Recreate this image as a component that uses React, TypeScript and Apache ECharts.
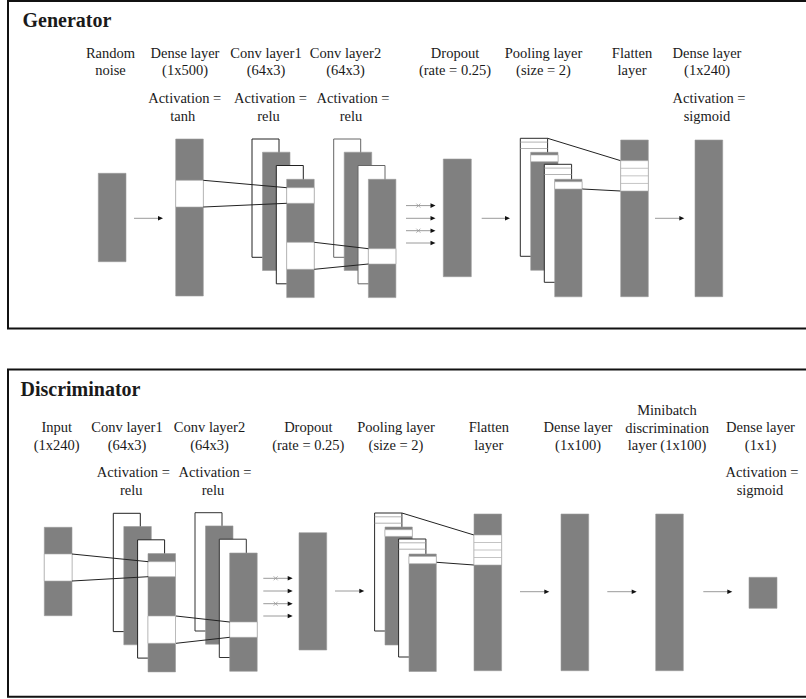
import React, { useEffect, useRef } from "react";
import * as echarts from "echarts";

// ---- Diagram text content ----
const generatorTitle = "Generator";
const discriminatorTitle = "Discriminator";

const generatorLabels: string[][] = [
  ["Random", "noise"],
  ["Dense layer", "(1x500)"],
  ["Conv layer1", "(64x3)"],
  ["Conv layer2", "(64x3)"],
  ["Dropout", "(rate = 0.25)"],
  ["Pooling layer", "(size = 2)"],
  ["Flatten", "layer"],
  ["Dense layer", "(1x240)"],
];
const generatorActivations: (string | null)[] = [null, "tanh", "relu", "relu", null, null, null, "sigmoid"];

const discriminatorLabels: string[][] = [
  ["Input", "(1x240)"],
  ["Conv layer1", "(64x3)"],
  ["Conv layer2", "(64x3)"],
  ["Dropout", "(rate = 0.25)"],
  ["Pooling layer", "(size = 2)"],
  ["Flatten", "layer"],
  ["Dense layer", "(1x100)"],
  ["Minibatch", "discrimination", "layer (1x100)"],
  ["Dense layer", "(1x1)"],
];
const discriminatorActivations: (string | null)[] = [null, "relu", "relu", null, null, null, null, null, "sigmoid"];

// ---- layout (positions only) ----
const GX = [110.5, 185, 266, 345.5, 455, 543.5, 632, 707];
const GAX = [0, 184.7, 270.5, 353, 0, 0, 0, 709];
const DX = [56.7, 127, 209.5, 308.3, 396, 488.8, 578, 667, 760.5];
const DAX = [0, 133.3, 215, 0, 0, 0, 0, 0, 762];

const GRAY = "#808080";
const TXT = "#1a1a1a";
const FAMILY = "'Liberation Serif', 'Times New Roman', serif";
const FS = 14.5;
const BL = 6.5; // baseline offset from middle

function text(x: number, baseline: number, s: string, opts: any = {}) {
  const size = opts.fontSize ?? FS;
  const weight = opts.fontWeight ?? "normal";
  const align = opts.align ?? "center";
  return {
    type: "text",
    x,
    y: baseline - (opts.bl ?? BL),
    z: 10,
    style: {
      text: s,
      fill: TXT,
      font: `${weight} ${size}px ${FAMILY}`,
      textAlign: align,
      textVerticalAlign: "middle",
      align,
      verticalAlign: "middle",
    },
  };
}

function rect(x: number, y: number, w: number, h: number, fill: string, stroke?: string, lw = 1) {
  return {
    type: "rect",
    shape: { x, y, width: w, height: h },
    style: { fill, stroke: stroke ?? null, lineWidth: stroke ? lw : 0 },
  };
}

function line(x1: number, y1: number, x2: number, y2: number, stroke = "#222", lw = 1) {
  return { type: "line", shape: { x1, y1, x2, y2 }, style: { stroke, lineWidth: lw } };
}

function arrow(x1: number, x2: number, y: number, xmark = false) {
  const els: any[] = [line(x1, y, x2 - 4, y, "#9a9a9a", 1)];
  els.push({
    type: "polygon",
    shape: { points: [[x2 - 5, y - 2.3], [x2, y], [x2 - 5, y + 2.3]] },
    style: { fill: "#111" },
  });
  if (xmark) {
    const cx = x1 + (x2 - x1) * 0.42;
    els.push(line(cx - 2, y - 2, cx + 2, y + 2, "#999", 0.8));
    els.push(line(cx - 2, y + 2, cx + 2, y - 2, "#999", 0.8));
  }
  return els;
}

function grayBar(x: number, y: number, w: number, h: number) {
  return rect(x, y, w, h, GRAY, "#9a9a9a", 0.6);
}

function band(x: number, y1: number, w: number, y2: number) {
  return rect(x, y1, w, y2 - y1, "#fff", "#a8a8a8", 0.6);
}

function convBlock(x0: number, y0: number, outline: string, bands: [number, number][]) {
  const w = 27.5, h = 118.3;
  const els: any[] = [];
  els.push(rect(x0, y0, w - 0.5, h, "#fff", outline, 1));
  els.push(grayBar(x0 + 10.5, y0 + 13.2, w, h));
  els.push(rect(x0 + 24.3, y0 + 26.5, w - 0.5, h, "#fff", outline, 1));
  els.push(grayBar(x0 + 34.7, y0 + 40.3, w, h));
  bands.forEach(([a, b]) => els.push(band(x0 + 34.7, a, w, b)));
  return els;
}

function poolBlock(x0: number, y0: number) {
  const w = 27.3, h = 118;
  const els: any[] = [];
  const outlineRect = (x: number, y: number) => {
    els.push(rect(x, y, w, h, "#fff", "#2a2a2a", 1));
    els.push(line(x, y + 3.8, x + w, y + 3.8, "#a0a0a0", 0.8));
    els.push(line(x, y + 10.2, x + w, y + 10.2, "#a0a0a0", 0.8));
  };
  outlineRect(x0, y0);
  els.push(grayBar(x0 + 10.4, y0 + 14, w, h));
  els.push(band(x0 + 10.4, y0 + 16.7, w, y0 + 23.4));
  outlineRect(x0 + 24, y0 + 26);
  els.push(grayBar(x0 + 34.4, y0 + 41, w, h - 0.5));
  els.push(band(x0 + 34.4, y0 + 43.4, w, y0 + 50.7));
  return els;
}

function flatten(x: number, y: number, b1: number, b2: number) {
  const w = 27.6, h = 156.7;
  const els: any[] = [grayBar(x, y, w, h), band(x, b1, w, b2)];
  const step = (b2 - b1) / 4;
  for (let i = 1; i < 4; i++) els.push(line(x, b1 + step * i, x + w, b1 + step * i, "#b5b5b5", 0.8));
  return els;
}

function buildElements() {
  const els: any[] = [];
  // frames
  els.push(rect(8, 1, 900, 327.5, "#fff", "#111", 2));
  els.push(rect(8, 369.5, 900, 327.3, "#fff", "#111", 2));

  // titles
  els.push(text(22.5, 27, generatorTitle, { fontSize: 20, fontWeight: "bold", align: "left", bl: 7.5 }));
  els.push(text(20.5, 396.7, discriminatorTitle, { fontSize: 20, fontWeight: "bold", align: "left", bl: 7.5 }));

  // generator labels
  generatorLabels.forEach((lines, i) => {
    lines.forEach((s, j) => els.push(text(GX[i], 59 + j * 17.7, s)));
    const a = generatorActivations[i];
    if (a) {
      els.push(text(GAX[i], 104.5, "Activation ="));
      els.push(text(GAX[i] - 2, 122, a));
    }
  });
  // discriminator labels
  discriminatorLabels.forEach((lines, i) => {
    const start = lines.length === 3 ? 416.5 : 433.5;
    lines.forEach((s, j) => els.push(text(DX[i], start + j * 17.6, s)));
    const a = discriminatorActivations[i];
    if (a) {
      els.push(text(DAX[i], 478.5, "Activation ="));
      els.push(text(DAX[i] - 2, 496, a));
    }
  });

  // ---------- Generator ----------
  els.push(grayBar(98.3, 173.3, 27.7, 88.4));
  els.push(...arrow(134, 163, 218.3));
  els.push(grayBar(175.7, 139, 27.6, 157));
  els.push(band(175.7, 180.3, 27.6, 207));
  els.push(...convBlock(252, 139, "#222", [[187.7, 203.3], [242.3, 269.3]]));
  els.push(line(203.3, 180.3, 286.7, 187.7));
  els.push(line(203.3, 207, 286.7, 203.3));
  els.push(...convBlock(333.7, 139, "#666", [[248.7, 264]]));
  els.push(line(314.3, 242.3, 368.4, 248.7));
  els.push(line(314.3, 269.3, 368.4, 264));
  els.push(...arrow(406, 435.5, 205.6, true));
  els.push(...arrow(406, 435.5, 218.3));
  els.push(...arrow(406, 435.5, 230.7, true));
  els.push(...arrow(406, 435.5, 243));
  els.push(grayBar(443.3, 159, 28, 117.7));
  els.push(...arrow(481.7, 510, 218.3));
  els.push(...poolBlock(520.3, 138.3));
  els.push(line(547.6, 138.3, 620.7, 160.7));
  els.push(line(582.3, 189, 620.7, 191));
  els.push(...flatten(620.7, 140, 160.7, 191));
  els.push(...arrow(655, 684.3, 218.3));
  els.push(grayBar(695, 140, 27.7, 156.7));

  // ---------- Discriminator ----------
  els.push(grayBar(44.3, 527.3, 27.7, 88.4));
  els.push(band(44.3, 554, 27.7, 581));
  els.push(...convBlock(113.3, 513.3, "#222", [[561.7, 576.7], [616, 643.3]]));
  els.push(line(72, 554, 148.3, 561.7));
  els.push(line(72, 581, 148.3, 576.7));
  els.push(...convBlock(195, 512.7, "#333", [[622, 637.3]]));
  els.push(line(176, 616, 229.7, 622));
  els.push(line(176, 643.3, 229.7, 637.3));
  els.push(...arrow(263.3, 292.7, 578.3, true));
  els.push(...arrow(263.3, 292.7, 591));
  els.push(...arrow(263.3, 292.7, 603.7, true));
  els.push(...arrow(263.3, 292.7, 616));
  els.push(grayBar(299, 532.7, 27.7, 117.3));
  els.push(...arrow(335, 364.3, 591));
  els.push(...poolBlock(374.6, 513));
  els.push(line(401.9, 513, 474, 535));
  els.push(line(436.7, 562.3, 474, 565));
  els.push(...flatten(474, 514, 535, 565));
  els.push(...arrow(520, 549.3, 591.7));
  els.push(grayBar(561, 514, 27.7, 156.7));
  els.push(...arrow(607.3, 636.7, 591.7));
  els.push(grayBar(655.7, 514, 27.6, 156.7));
  els.push(...arrow(703.3, 732.3, 591.7));
  els.push(grayBar(749, 577.3, 28, 31));
  return els;
}

export default function App() {
  const ref = useRef<HTMLDivElement>(null);
  useEffect(() => {
    const chart = echarts.init(ref.current!, null, { renderer: "svg" });
    chart.setOption({
      animation: false,
      backgroundColor: "#fff",
      graphic: { elements: buildElements() },
    });
    return () => chart.dispose();
  }, []);
  return (
    <div
      ref={ref}
      style={{ position: "fixed", left: 0, top: 0, width: 806, height: 699, background: "#fff" }}
    />
  );
}
